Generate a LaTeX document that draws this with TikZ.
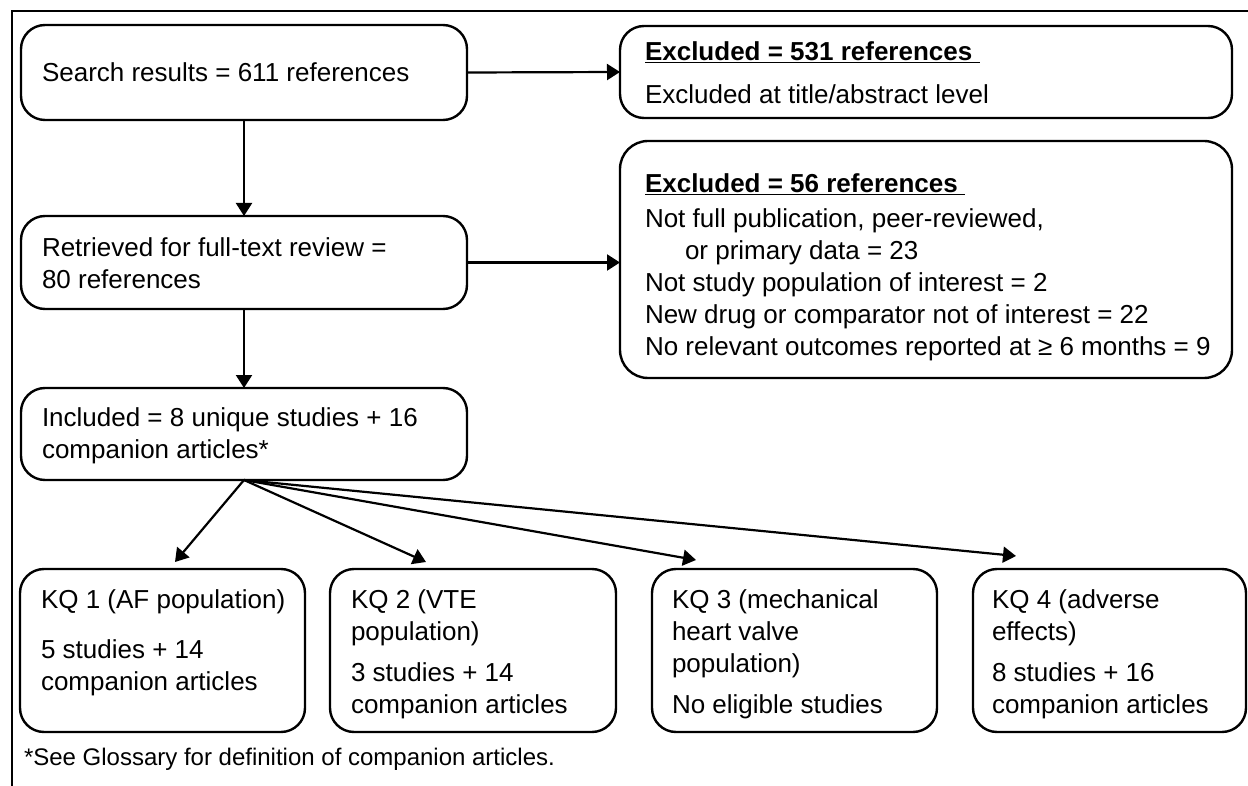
\documentclass[tikz,border=0pt]{standalone}
\usepackage{fontspec}
\setmainfont{Liberation Sans}
\usetikzlibrary{arrows.meta,calc}
\begin{document}
\begin{tikzpicture}[x=1pt,y=-1pt,
  box/.style={draw, line width=2.4pt, rounded corners=24pt, inner sep=0pt, outer sep=0pt, anchor=north west},
  txt/.style={anchor=north west, inner sep=0pt, outer sep=0pt, align=left, font=\fontsize{26}{32}\selectfont},
  foot/.style={anchor=north west, inner sep=0pt, outer sep=0pt, font=\fontsize{24}{28}\selectfont},
  arr/.style={line width=2.2pt, -{Triangle[length=13pt,width=16pt]}},
  frameline/.style={line width=2.2pt}]
\useasboundingbox (0,0) rectangle (1248,786);
\draw[frameline] (12,786) -- (12,11) -- (1248,11);

% boxes
\node[box, minimum width=446pt, minimum height=95pt] (b1) at (21,25) {};
\node[box, minimum width=612pt, minimum height=92pt] (b2) at (620,26) {};
\node[box, minimum width=446pt, minimum height=93pt] (b3) at (21,216) {};
\node[box, minimum width=612pt, minimum height=237pt, rounded corners=28pt] (b4) at (620,141) {};
\node[box, minimum width=446pt, minimum height=92pt] (b5) at (21,388) {};
\node[box, minimum width=285pt, minimum height=163pt] (kq1) at (20,569) {};
\node[box, minimum width=286pt, minimum height=163pt] (kq2) at (330,569) {};
\node[box, minimum width=285pt, minimum height=163pt] (kq3) at (652,569) {};
\node[box, minimum width=273pt, minimum height=163pt] (kq4) at (973,569) {};

% texts
\node[txt] (t-b1) at (42,63) {Search results = 611 references};
\node[txt] (t-b2) at (645,42) {\underline{\textbf{Excluded = 531 references}\ }\\[11pt]Excluded at title/abstract level};
\node[txt] (t-b3) at (42,238) {Retrieved for full-text review =\\80 references};
\node[txt] (t-b4) at (645,174) {\underline{\textbf{Excluded = 56 references}\ }\\[3pt]Not full publication, peer-reviewed,\\\hspace*{40pt}or primary data = 23\\Not study population of interest = 2\\New drug or comparator not of interest = 22\\No relevant outcomes reported at ≥ 6 months = 9};
\node[txt] (t-b5) at (42,408) {Included = 8 unique studies + 16\\companion articles*};
\node[txt] (t-kq1) at (41,590) {KQ 1 (AF population)\\[18pt]5 studies + 14\\companion articles};
\node[txt] (t-kq2) at (351,590) {KQ 2 (VTE\\population)\\[9pt]3 studies + 14\\companion articles};
\node[txt] (t-kq3) at (672,590) {KQ 3 (mechanical\\heart valve\\population)\\[9pt]No eligible studies};
\node[txt] (t-kq4) at (992,590) {KQ 4 (adverse\\effects)\\[9pt]8 studies + 16\\companion articles};
\node[foot] (fn) at (24,748) {*See Glossary for definition of companion articles.};

% arrow tips above the KQ boxes
\coordinate (tip1) at (175,562);
\coordinate (tip2) at (426,562);
\coordinate (tip3) at (696,560);
\coordinate (tip4) at (1016,556);

% connectors
\draw[arr] (b1.east) -- (b2.west);
\draw[arr] (b1.south) -- (b1.south |- b3.north);
\draw[arr] (b3.east) -- (b3.east -| b4.west);
\draw[arr] (b3.south) -- (b3.south |- b5.north);
\draw[arr] (b5.south) -- (tip1);
\draw[arr] (b5.south) -- (tip2);
\draw[arr] (b5.south) -- (tip3);
\draw[arr] (b5.south) -- (tip4);
\end{tikzpicture}
\end{document}
